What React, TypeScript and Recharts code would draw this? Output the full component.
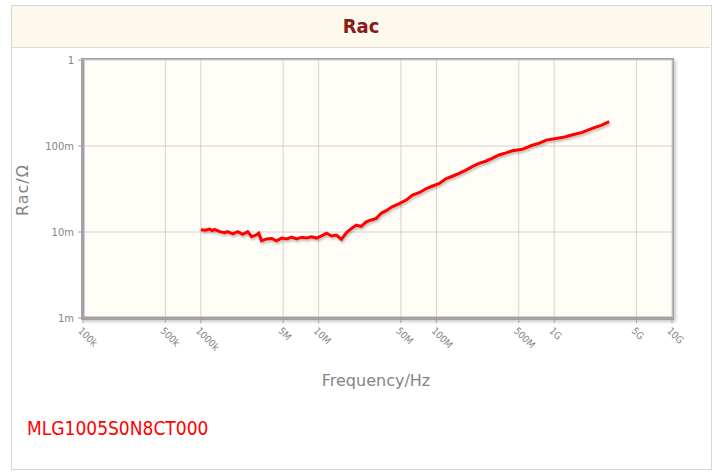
import React from "react";
import { Line, LineChart, CartesianGrid, XAxis, YAxis } from "recharts";

const FREQ_HZ = [
  1.0e6, 1.09e6, 1.19e6, 1.25e6, 1.31e6, 1.45e6, 1.6e6, 1.69e6, 1.87e6, 2.06e6, 2.27e6,
  2.5e6, 2.7e6, 2.98e6, 3.1e6, 3.28e6, 3.6e6, 4.0e6, 4.4e6, 4.85e6, 5.35e6, 5.9e6,
  6.5e6, 7.2e6, 7.9e6, 8.7e6, 9.6e6, 10.6e6, 11.7e6, 12.9e6, 14.2e6, 15.6e6,
  17.2e6, 19e6, 20.9e6, 23e6, 25.4e6, 28e6, 30.9e6, 34e6, 37.5e6, 42e6,
  48e6, 55.4e6, 62.6e6, 72e6, 82e6, 94e6, 106e6, 121e6, 138e6, 156e6,
  178e6, 201e6, 230e6, 262e6, 297e6, 340e6, 390e6, 441e6, 535e6, 650e6,
  750e6, 855e6, 1.1e9, 1.25e9, 1.41e9, 1.73e9, 2.1e9, 2.5e9, 2.93e9,
];
const RAC_OHM = [
  0.0106, 0.0105, 0.0108, 0.0104, 0.0107, 0.0101, 0.0098, 0.0101, 0.0095, 0.0101, 0.0094,
  0.0101, 0.0088, 0.0093, 0.0097, 0.0079, 0.0083, 0.0084, 0.0079, 0.0085, 0.0083, 0.0087,
  0.0083, 0.0087, 0.0085, 0.0088, 0.0085, 0.009, 0.0097, 0.009, 0.0092, 0.0082,
  0.0098, 0.011, 0.012, 0.0116, 0.0131, 0.0138, 0.0144, 0.0165, 0.0177, 0.0196,
  0.0212, 0.0235, 0.0269, 0.0288, 0.032, 0.0345, 0.0367, 0.0419, 0.0448, 0.048,
  0.0525, 0.0576, 0.0628, 0.0665, 0.0717, 0.0786, 0.0832, 0.088, 0.0915, 0.102,
  0.108, 0.117, 0.124, 0.128, 0.134, 0.144, 0.16, 0.174, 0.192,
];

const X_TICKS = [1e5, 5e5, 1e6, 5e6, 1e7, 5e7, 1e8, 5e8, 1e9, 5e9, 1e10];
const X_TICK_LABELS = ["100k", "500k", "1000k", "5M", "10M", "50M", "100M", "500M", "1G", "5G", "10G"];
const Y_TICKS = [0.001, 0.01, 0.1, 1];
const Y_TICK_LABELS = ["1m", "10m", "100m", "1"];

const TITLE = "Rac";
const PART_NO = "MLG1005S0N8CT000";

const data = FREQ_HZ.map((f, i) => ({ f, r: RAC_OHM[i] }));

const FONT = "'DejaVu Sans', sans-serif";
const CONDENSED = "'DejaVu Sans Condensed', 'DejaVu Sans', sans-serif";
const GREY = "#858585";

function XTick(props: any) {
  const { x, y, payload } = props;
  const idx = X_TICKS.indexOf(payload.value);
  return (
    <text
      x={x - 3}
      y={y + 4}
      transform={`rotate(45 ${x - 3} ${y + 4})`}
      fontSize={10}
      fill={GREY}
      fontFamily={CONDENSED}
      textAnchor="start"
      dominantBaseline="central"
    >
      {X_TICK_LABELS[idx]}
    </text>
  );
}

function YTick(props: any) {
  const { x, y, payload } = props;
  const idx = Y_TICKS.indexOf(payload.value);
  return (
    <text x={x - 2} y={y} fontSize={10} fill={GREY} fontFamily={FONT} textAnchor="end" dominantBaseline="central">
      {Y_TICK_LABELS[idx]}
    </text>
  );
}

export default function App() {
  return (
    <div style={{ position: "absolute", left: 0, top: 0, width: 715, height: 475, background: "#fff", fontFamily: FONT }}>
      {/* outer panel */}
      <div
        style={{
          position: "absolute",
          left: 11,
          top: 5,
          width: 699,
          height: 463,
          border: "1px solid #d6d6d6",
          boxSizing: "content-box",
        }}
      />
      {/* header band */}
      <div
        style={{
          position: "absolute",
          left: 12,
          top: 6,
          width: 698,
          height: 41,
          background: "#fdf9ec",
          borderBottom: "1px solid #e2dccb",
          textAlign: "center",
          lineHeight: "41px",
          fontSize: 20,
          fontWeight: "bold",
          color: "#8b1a1a",
          fontFamily: CONDENSED,
        }}
      >
        {TITLE}
      </div>
      {/* plot frame */}
      <div
        style={{
          position: "absolute",
          left: 81,
          top: 58,
          width: 589,
          height: 258,
          background: "#fffdf5",
          border: "2px solid #a3a3a3",
          boxShadow: "2px 2px 3px rgba(0,0,0,0.2)",
        }}
      />
      <div style={{ position: "absolute", left: 0, top: 0 }}>
        <LineChart width={715} height={475} data={data} margin={{ top: 60, right: 43, bottom: 97, left: 23 }}>
          <defs>
            <filter id="lineShadow" x="-5%" y="-5%" width="110%" height="120%">
              <feDropShadow dx="1" dy="2" stdDeviation="1" floodColor="#000" floodOpacity="0.25" />
            </filter>
          </defs>
          <CartesianGrid stroke="#d2d2d2" strokeWidth={1} />
          <XAxis
            dataKey="f"
            type="number"
            scale="log"
            domain={[1e5, 1e10]}
            ticks={X_TICKS}
            interval={0}
            allowDataOverflow
            height={60}
            tick={<XTick />}
            tickLine={{ stroke: "#a3a3a3" }}
            tickSize={5}
            axisLine={{ stroke: "#a3a3a3", strokeWidth: 3 }}
          />
          <YAxis
            dataKey="r"
            type="number"
            scale="log"
            domain={[0.001, 1]}
            ticks={Y_TICKS}
            interval={0}
            allowDataOverflow
            width={60}
            tick={<YTick />}
            tickLine={{ stroke: "#a3a3a3" }}
            tickSize={5}
            axisLine={{ stroke: "#a3a3a3", strokeWidth: 3 }}
          />
          <Line
            dataKey="r"
            type="linear"
            stroke="#ff0000"
            strokeWidth={3}
            dot={false}
            isAnimationActive={false}
            filter="url(#lineShadow)"
          />
        </LineChart>
      </div>
      {/* axis titles */}
      <div
        style={{
          position: "absolute",
          left: 22,
          top: 190,
          transform: "translate(-50%, -50%) rotate(-90deg)",
          fontSize: 16,
          letterSpacing: 1,
          color: GREY,
          whiteSpace: "nowrap",
        }}
      >
        Rac/Ω
      </div>
      <div
        style={{
          position: "absolute",
          left: 376,
          top: 380,
          transform: "translate(-50%, -50%)",
          fontSize: 16,
          color: GREY,
          whiteSpace: "nowrap",
        }}
      >
        Frequency/Hz
      </div>
      <div
        style={{
          position: "absolute",
          left: 27,
          top: 428,
          transform: "translateY(-50%)",
          fontSize: 19,
          color: "#ff0000",
          fontFamily: CONDENSED,
          whiteSpace: "nowrap",
        }}
      >
        {PART_NO}
      </div>
    </div>
  );
}
